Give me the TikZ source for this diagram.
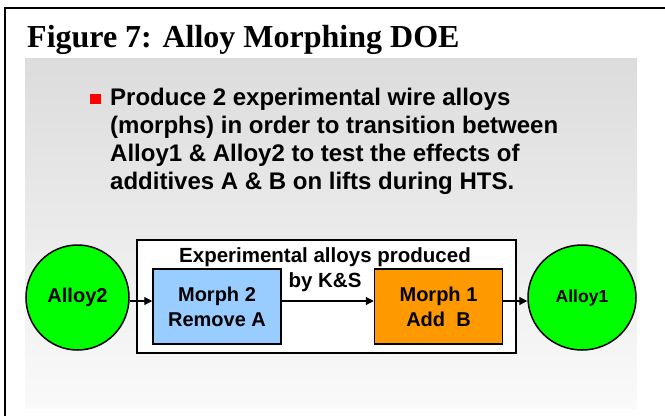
\documentclass[tikz,border=0pt]{standalone}
\usepackage{fontspec}
\setmainfont{Liberation Sans}
\newfontfamily\titlefont{Liberation Serif}
\usetikzlibrary{shapes.geometric,arrows.meta}

\definecolor{alloygreen}{RGB}{0,255,0}
\definecolor{morphblue}{RGB}{153,204,255}
\definecolor{morphorange}{RGB}{255,153,0}
\definecolor{paneltop}{RGB}{220,220,220}
\definecolor{panelbot}{RGB}{250,250,250}

\tikzset{
  alloy/.style={ellipse, draw, line width=1.5pt, fill=alloygreen, inner sep=0pt,
    font=\fontsize{20}{24}\selectfont\bfseries},
  morph/.style={rectangle, draw, line width=1.5pt, minimum width=128pt,
    minimum height=75pt, align=center, font=\fontsize{20}{25}\selectfont\bfseries},
  flow/.style={-{Triangle[length=8pt,width=8pt]}, line width=1.2pt},
}

\begin{document}
\begin{tikzpicture}[x=1pt,y=-1pt]

  \useasboundingbox (0,0) rectangle (665,416);

  %% frame and panel
  \shade[top color=paneltop, bottom color=panelbot] (25,58) rectangle (637,408);
  \draw[line width=2pt] (4.7,416) -- (4.7,8) -- (665,8);

  %% title
  \node[anchor=base west, inner sep=0pt,
    font=\titlefont\fontsize{32}{36}\selectfont\bfseries] (title) at (27,47)
  {Figure 7: Alloy Morphing DOE};

  %% bullet (base = last line)
  \node[fill=red, minimum size=10.5pt, inner sep=0pt] (bullet) at (95.5,99) {};
  \node[anchor=base west, inner sep=0pt, align=left,
    font=\fontsize{24}{28}\selectfont\bfseries] (goal) at (110,189.5)
  {Produce 2 experimental wire alloys\\
   (morphs) in order to transition between\\
   Alloy1 \& Alloy2 to test the effects of\\
   additives A \& B on lifts during HTS.};

  %% experimental alloys
  \node[draw, fill=white, line width=1.8pt, minimum width=379pt,
    minimum height=113pt] (kns) at (326.5,296.5) {};
  \node[anchor=base, inner sep=0pt, align=center,
    font=\fontsize{20.5}{25}\selectfont\bfseries] (knslabel) at (325,287)
  {Experimental alloys produced\\by K\&S};
  \node[morph, fill=morphblue] (m2) at (217,306.5) {Morph 2\\Remove A};
  \node[morph, fill=morphorange] (m1) at (438.5,306.5) {Morph 1\\Add~ B};

  %% alloys
  \node[alloy, minimum width=103pt, minimum height=105pt] (a2) at (77.5,297.5) {Alloy2};
  \node[alloy, minimum width=108pt, minimum height=105pt,
    font=\fontsize{17.5}{21}\selectfont\bfseries] (a1) at (582,297.5) {Alloy1};

  %% flow
  \draw[flow] ([yshift=-3.5pt]a2.east) -- ([yshift=5.5pt]m2.west);
  \draw[flow] ([yshift=5.5pt]m2.east) -- ([yshift=5.5pt]m1.west);
  \draw[flow] ([yshift=5.5pt]m1.east) -- ([yshift=-3.5pt]a1.west);

\end{tikzpicture}
\end{document}
